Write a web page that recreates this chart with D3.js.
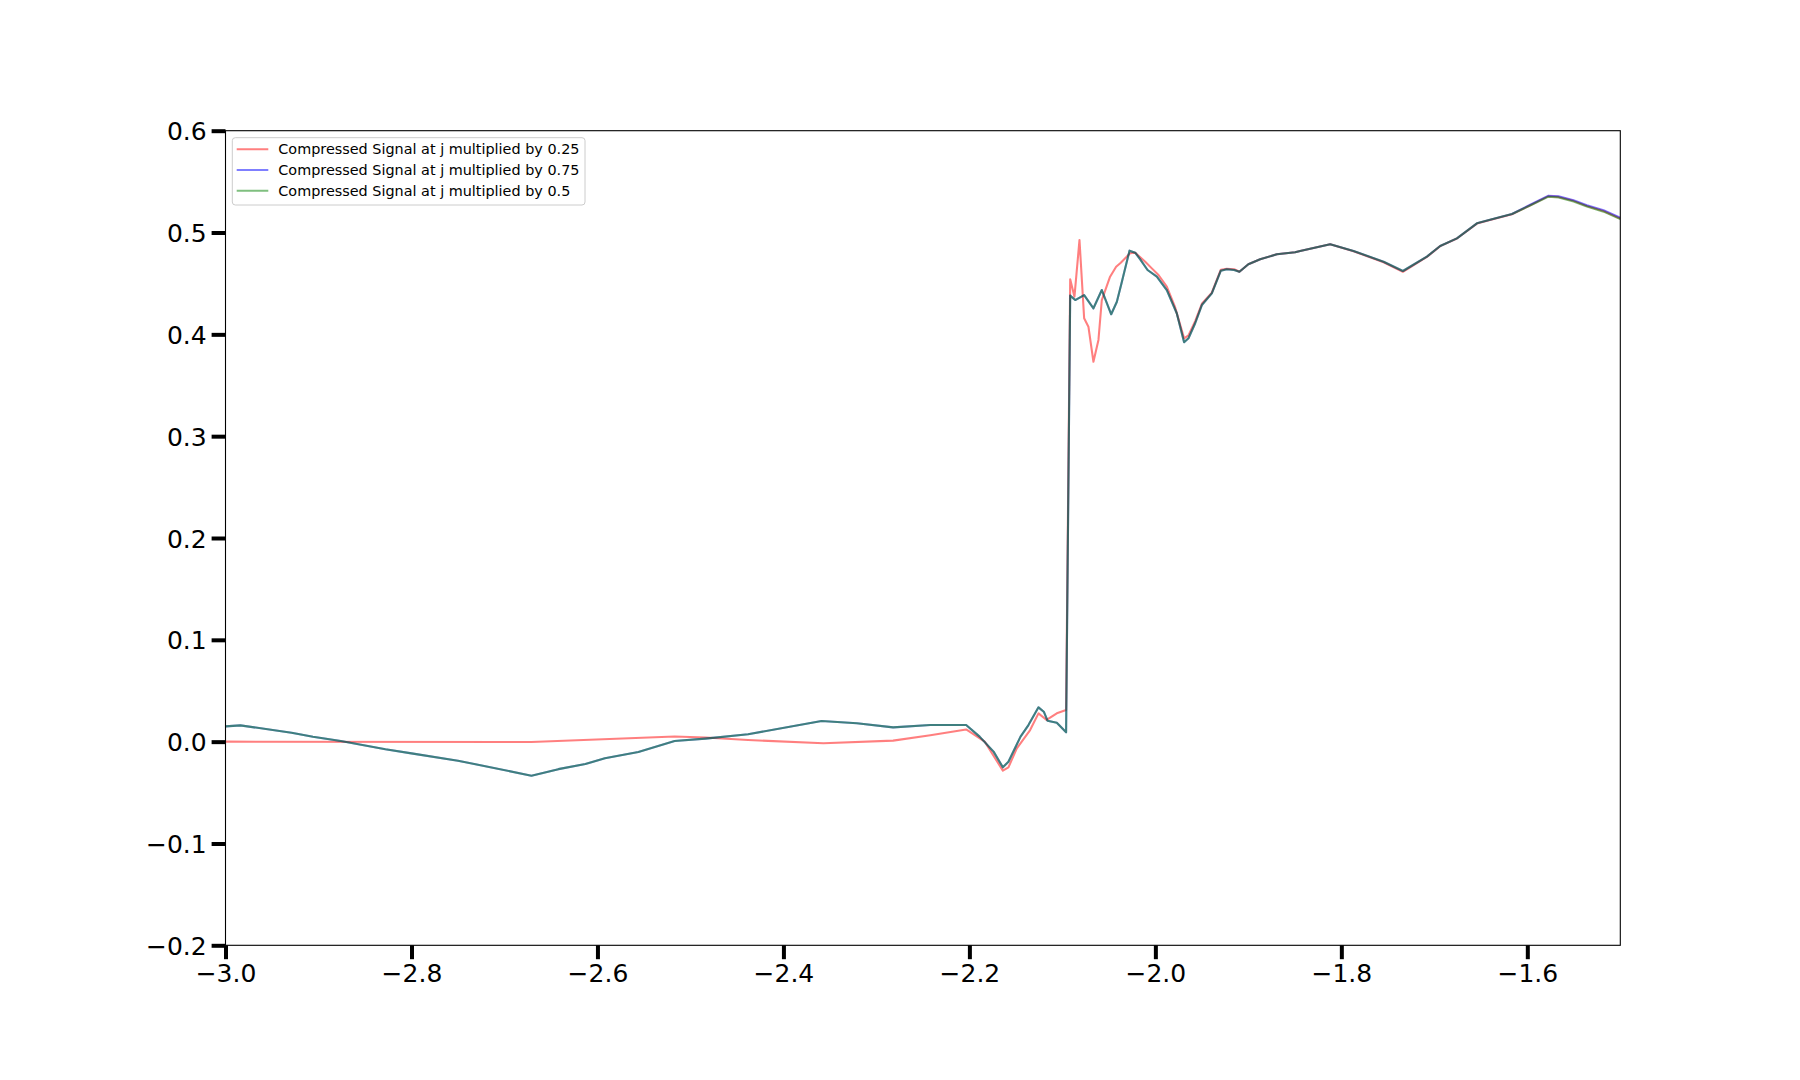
<!DOCTYPE html>
<html>
<head>
<meta charset="utf-8">
<script src="https://cdn.jsdelivr.net/npm/d3@7"></script>
<style>
  body { margin: 0; background: #fff; }
  svg { display: block; font-family: "DejaVu Sans", sans-serif; }
</style>
</head>
<body>
<svg id="chart" width="1800" height="1080"></svg>
<script>
// ---- data ----
const xTicks = [-3.0, -2.8, -2.6, -2.4, -2.2, -2.0, -1.8, -1.6];
const yTicks = [-0.2, -0.1, 0.0, 0.1, 0.2, 0.3, 0.4, 0.5, 0.6];

const seriesNames = [
  "Compressed Signal at j multiplied by 0.25",
  "Compressed Signal at j multiplied by 0.75",
  "Compressed Signal at j multiplied by 0.5"
];

// x positions for the 0.25 series
const xRed = [-3.000, -2.671, -2.517, -2.484, -2.438, -2.357, -2.282, -2.242, -2.2035, -2.1835,
  -2.164, -2.158, -2.149, -2.1347, -2.1257, -2.117, -2.106, -2.096,
  -2.0916, -2.087, -2.0816, -2.0766, -2.072, -2.0666, -2.0612, -2.0576, -2.0487, -2.0422, -2.0372,
  -2.0272, -2.0217, -2.0109, -2.0038, -1.9966, -1.9877, -1.979, -1.9691, -1.9644, -1.9572, -1.95,
  -1.9393, -1.9296, -1.9232, -1.9153, -1.9096, -1.9, -1.8873, -1.8694, -1.8497, -1.8443, -1.812,
  -1.7869, -1.7546, -1.7338, -1.708, -1.6937, -1.6757, -1.6542, -1.6381, -1.6165, -1.5969, -1.5772,
  -1.5664, -1.5503, -1.5359, -1.518, -1.5];
const yRed = [0.0000, -0.0003, 0.0050, 0.0040, 0.0016, -0.0016, 0.0010, 0.0062, 0.0120, 0.0000,
  -0.0285, -0.0252, -0.0066, 0.0114, 0.0278, 0.0213, 0.0278, 0.0310,
  0.4540, 0.4370, 0.4927, 0.4158, 0.4075, 0.3731, 0.3945, 0.4337, 0.4566, 0.4664, 0.4704,
  0.4796, 0.4802, 0.4713, 0.4648, 0.4583, 0.4468, 0.4272, 0.3961, 0.3990, 0.4130, 0.4300,
  0.4410, 0.4635, 0.4645, 0.4640, 0.4615, 0.4688, 0.4737, 0.4786, 0.4806, 0.4819, 0.4884,
  0.4816, 0.4708, 0.4614, 0.4760, 0.4866, 0.4941, 0.5088, 0.5128, 0.5180, 0.5268, 0.5357,
  0.5350, 0.5311, 0.5261, 0.5212, 0.5138];

// x positions shared by the 0.75 and 0.5 series
const xMain = [-3.000, -2.984, -2.929, -2.906, -2.876, -2.828, -2.800, -2.750, -2.671, -2.642,
  -2.613, -2.592, -2.556, -2.517, -2.484, -2.438, -2.359, -2.321, -2.282, -2.242, -2.2035,
  -2.189, -2.174, -2.164, -2.158, -2.145, -2.1365, -2.1257, -2.120, -2.116, -2.106, -2.096,
  -2.0916, -2.0862, -2.0766, -2.0666, -2.0576, -2.0475, -2.0414, -2.036, -2.0278, -2.0217,
  -2.0163, -2.0084, -1.9984, -1.9877, -1.977, -1.9691, -1.9644, -1.9572, -1.95, -1.9393,
  -1.9296, -1.9232, -1.9153, -1.9096, -1.9, -1.8873, -1.8694, -1.8497, -1.8443, -1.812,
  -1.7869, -1.7546, -1.7338, -1.708, -1.6937, -1.6757, -1.6542, -1.6381, -1.6165, -1.5969,
  -1.5772, -1.5664, -1.5503, -1.5359, -1.518, -1.5];
const yGreen = [0.0150, 0.0160, 0.0088, 0.0049, 0.0006, -0.0075, -0.0115, -0.0187, -0.0334, -0.0270,
  -0.0220, -0.0164, -0.0102, 0.0006, 0.0030, 0.0072, 0.0203, 0.0180, 0.0140, 0.0163, 0.0163,
  0.0049, -0.0098, -0.0252, -0.0197, 0.0049, 0.0163, 0.0337, 0.0294, 0.0206, 0.0186, 0.0092,
  0.4380, 0.4337, 0.4386, 0.4256, 0.4435, 0.4197, 0.4320, 0.4517, 0.4822, 0.4802,
  0.4737, 0.4632, 0.4566, 0.4435, 0.4207, 0.3922, 0.3961, 0.4109, 0.4288, 0.4403,
  0.4625, 0.4639, 0.4632, 0.4615, 0.4688, 0.4737, 0.4786, 0.4806, 0.4819, 0.4884,
  0.4819, 0.4713, 0.4622, 0.4763, 0.4868, 0.4943, 0.5090, 0.5130, 0.5182, 0.5265,
  0.5352, 0.5345, 0.5305, 0.5255, 0.5205, 0.5132];
const yBlue = [0.0150, 0.0160, 0.0088, 0.0049, 0.0006, -0.0075, -0.0115, -0.0187, -0.0334, -0.0270,
  -0.0220, -0.0164, -0.0102, 0.0006, 0.0030, 0.0072, 0.0203, 0.0180, 0.0140, 0.0163, 0.0163,
  0.0049, -0.0098, -0.0252, -0.0197, 0.0049, 0.0163, 0.0337, 0.0294, 0.0206, 0.0186, 0.0092,
  0.4380, 0.4337, 0.4386, 0.4256, 0.4435, 0.4197, 0.4320, 0.4517, 0.4822, 0.4802,
  0.4737, 0.4632, 0.4566, 0.4435, 0.4207, 0.3922, 0.3961, 0.4109, 0.4288, 0.4403,
  0.4625, 0.4639, 0.4632, 0.4615, 0.4688, 0.4737, 0.4786, 0.4806, 0.4819, 0.4884,
  0.4819, 0.4713, 0.4622, 0.4763, 0.4868, 0.4943, 0.5090, 0.5130, 0.5182, 0.5273,
  0.5362, 0.5356, 0.5318, 0.5268, 0.5220, 0.5146];

const seriesColors = ["rgba(255,0,0,0.5)", "rgba(0,0,255,0.5)", "rgba(0,128,0,0.5)"];

// ---- layout ----
const svg = d3.select("#chart");
const pLeft = 225.5, pRight = 1620.3, pTop = 130.7, pBottom = 945.3;
const x = d3.scaleLinear().domain([-3.0, -1.5]).range([pLeft, pRight]);
const y = d3.scaleLinear().domain([-0.2, 0.6]).range([pBottom, pTop]);

svg.append("defs").append("clipPath").attr("id", "clip")
  .append("rect").attr("x", pLeft).attr("y", pTop).attr("width", pRight - pLeft).attr("height", pBottom - pTop);

const series = [
  { xs: xRed, ys: yRed },
  { xs: xMain, ys: yBlue },
  { xs: xMain, ys: yGreen }
];

const line = d3.line().x(d => x(d[0])).y(d => y(d[1]));
const g = svg.append("g").attr("clip-path", "url(#clip)");
series.forEach((s, i) => {
  const pts = s.xs.map((v, k) => [v, s.ys[k]]);
  g.append("path").datum(pts)
    .attr("d", line)
    .attr("fill", "none")
    .attr("stroke", seriesColors[i])
    .attr("stroke-width", 2.08)
    .attr("stroke-linejoin", "round");
});

// frame
svg.append("rect").attr("x", pLeft).attr("y", pTop)
  .attr("width", pRight - pLeft).attr("height", pBottom - pTop)
  .attr("fill", "none").attr("stroke", "#000").attr("stroke-width", 1.1);

const fmt = v => (Math.abs(v) < 1e-9 ? "0.0" : d3.format(".1f")(v)).replace("-", "\u2212");

// x axis
const xAxis = d3.axisBottom(x).tickValues(xTicks).tickSize(13.9).tickPadding(4.9).tickFormat(fmt);
const gx = svg.append("g").attr("transform", `translate(0,${pBottom})`).call(xAxis);
gx.select(".domain").remove();
gx.selectAll(".tick line").attr("stroke", "#000").attr("stroke-width", 4);
gx.selectAll(".tick text").attr("fill", "#000").attr("font-size", "25px")
  .attr("font-family", "DejaVu Sans").attr("dy", "0.72em");

// y axis
const yAxis = d3.axisLeft(y).tickValues(yTicks).tickSize(13.9).tickPadding(4.9).tickFormat(fmt);
const gy = svg.append("g").attr("transform", `translate(${pLeft},0)`).call(yAxis);
gy.select(".domain").remove();
gy.selectAll(".tick line").attr("stroke", "#000").attr("stroke-width", 4);
gy.selectAll(".tick text").attr("fill", "#000").attr("font-size", "25px")
  .attr("font-family", "DejaVu Sans").attr("dy", "0.36em");

// legend
const lg = svg.append("g");
lg.append("rect").attr("x", 232.3).attr("y", 137.7).attr("width", 352.7).attr("height", 67.3)
  .attr("rx", 3).attr("fill", "rgba(255,255,255,0.8)").attr("stroke", "#cccccc").attr("stroke-width", 1);
seriesNames.forEach((name, i) => {
  const cy = 149.3 + i * 20.7;
  lg.append("line").attr("x1", 236.7).attr("x2", 268.3).attr("y1", cy).attr("y2", cy)
    .attr("stroke", seriesColors[i]).attr("stroke-width", 2.08);
  lg.append("text").attr("x", 278.3).attr("y", cy).attr("dy", "0.36em")
    .attr("font-size", "14.4px").attr("fill", "#000").text(name);
});
</script>
</body>
</html>
